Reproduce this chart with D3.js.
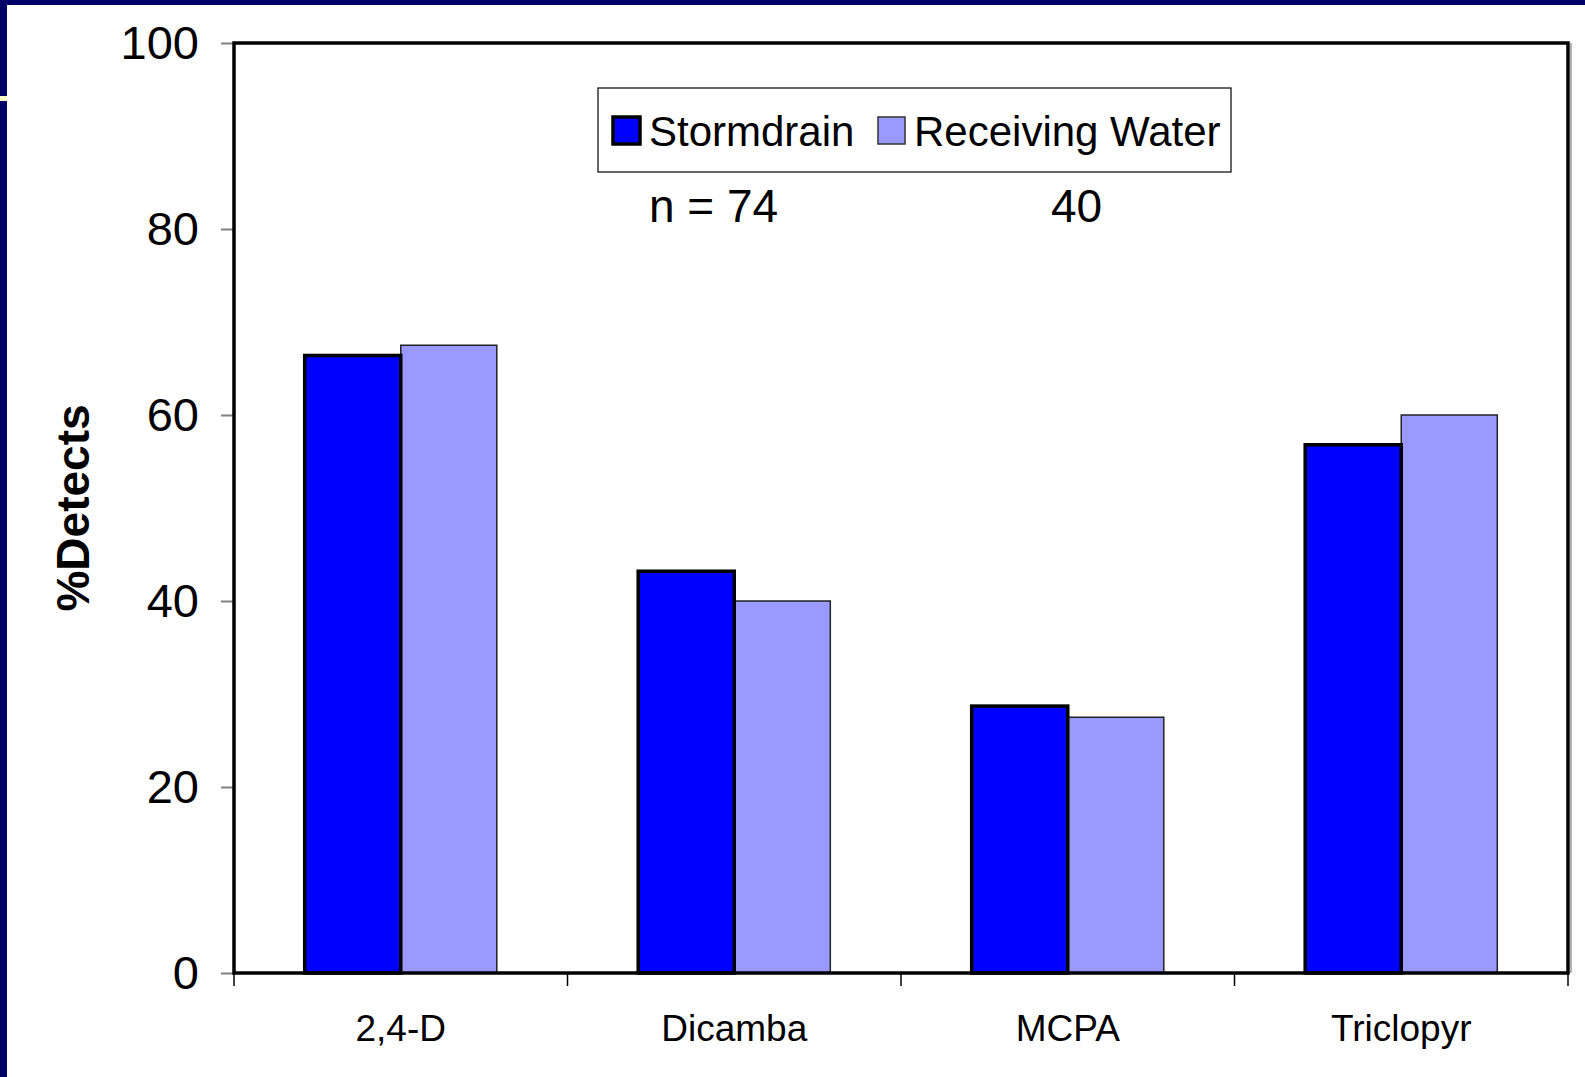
<!DOCTYPE html>
<html>
<head>
<meta charset="utf-8">
<title>%Detects</title>
<script src="https://cdn.jsdelivr.net/npm/d3@7"></script>
<style>
  body { margin: 0; background: #fff; }
  svg { display: block; font-family: 'Liberation Sans', Arial, sans-serif; }
</style>
</head>
<body>
<svg class="chart"></svg>
<script>
const categories = ['2,4-D', 'Dicamba', 'MCPA', 'Triclopyr'];
const seriesNames = ['Stormdrain', 'Receiving Water'];
const stormdrain = [66.4, 43.2, 28.7, 56.8];
const receivingWater = [67.5, 40.0, 27.5, 60.0];
const yTicks = [0, 20, 40, 60, 80, 100];
const nLabels = ['n = 74', '40'];

const app = (function () {
  'use strict';

  function init () {
    draw();
  }

  function draw () {
    const W = 1585;
    const H = 1077;
    const plot = { left: 234, top: 43, right: 1568, bottom: 973 };
    const colors = ['#0000ff', '#9999ff'];
    const strokes = [3.5, 1.5];

    const svg = d3.select('.chart')
      .attr('width', W)
      .attr('height', H);

    // slide frame
    svg.append('rect').attr('width', W).attr('height', H).attr('fill', '#000066');
    svg.append('rect').attr('x', 7).attr('y', 5).attr('width', W - 7).attr('height', H - 5).attr('fill', '#fff');
    svg.append('rect').attr('x', 0).attr('y', 96).attr('width', 7).attr('height', 5).attr('fill', '#ffffcc');

    const x = d3.scaleBand()
      .domain(categories)
      .range([plot.left, plot.right]);

    const groupW = x.bandwidth() * 0.576;
    const x1 = d3.scaleBand()
      .domain(seriesNames)
      .range([0, groupW]);

    const y = d3.scaleLinear()
      .domain([0, 100])
      .range([plot.bottom, plot.top]);

    const rows = categories.map(function (c, i) {
      return { cat: c, values: [stormdrain[i], receivingWater[i]] };
    });

    // bars
    const groups = svg.append('g')
      .selectAll('g')
      .data(rows)
      .enter().append('g')
      .attr('transform', function (d) {
        return 'translate(' + (x(d.cat) + (x.bandwidth() - groupW) / 2) + ',0)';
      });

    // receiving water first so the heavier stormdrain outline sits on top
    [1, 0].forEach(function (s) {
      groups.append('rect')
        .attr('x', x1(seriesNames[s]))
        .attr('y', function (d) { return y(d.values[s]); })
        .attr('width', x1.bandwidth())
        .attr('height', function (d) { return y(0) - y(d.values[s]); })
        .attr('fill', colors[s])
        .attr('stroke', s === 0 ? '#000' : '#222')
        .attr('stroke-width', strokes[s]);
    });

    // y axis
    const yAxis = svg.append('g')
      .attr('transform', 'translate(' + plot.left + ',0)')
      .call(d3.axisLeft(y).tickValues(yTicks).tickSize(13).tickPadding(22));
    yAxis.select('.domain').remove();
    yAxis.selectAll('line').attr('stroke', '#808080').attr('stroke-width', 2);
    yAxis.selectAll('text')
      .attr('font-size', 47)
      .attr('font-family', "'Liberation Sans', Arial, sans-serif")
      .attr('fill', '#000');

    // x axis labels
    const xAxis = svg.append('g')
      .attr('transform', 'translate(0,' + plot.bottom + ')')
      .call(d3.axisBottom(x).tickSize(0));
    xAxis.select('.domain').remove();
    xAxis.selectAll('text')
      .attr('y', 68)
      .attr('dy', 0)
      .attr('font-size', 37)
      .attr('font-family', "'Liberation Sans', Arial, sans-serif")
      .attr('fill', '#000');

    // category boundary ticks
    const bounds = categories.map(function (c) { return x(c); }).concat([plot.right]);
    svg.append('g')
      .selectAll('line')
      .data(bounds)
      .enter().append('line')
      .attr('x1', function (d) { return d; })
      .attr('x2', function (d) { return d; })
      .attr('y1', plot.bottom)
      .attr('y2', plot.bottom + 13)
      .attr('stroke', '#000')
      .attr('stroke-width', 1.5);

    // plot frame
    svg.append('line')
      .attr('x1', plot.right + 3).attr('x2', plot.right + 3)
      .attr('y1', plot.top).attr('y2', plot.bottom)
      .attr('stroke', '#999').attr('stroke-width', 1.5);
    svg.append('rect')
      .attr('x', plot.left)
      .attr('y', plot.top)
      .attr('width', plot.right - plot.left)
      .attr('height', plot.bottom - plot.top)
      .attr('fill', 'none')
      .attr('stroke', '#000')
      .attr('stroke-width', 3.5);

    // y title
    svg.append('text')
      .attr('transform', 'translate(89,' + ((plot.top + plot.bottom) / 2) + ') rotate(-90)')
      .attr('text-anchor', 'middle')
      .attr('font-size', 46)
      .attr('font-weight', 'bold')
      .text('%Detects');

    // legend
    const legend = svg.append('g');
    legend.append('rect')
      .attr('x', 598).attr('y', 88)
      .attr('width', 633).attr('height', 84)
      .attr('fill', '#fff')
      .attr('stroke', '#000')
      .attr('stroke-width', 1.2);

    const legendX = [613, 878];
    seriesNames.forEach(function (name, i) {
      legend.append('rect')
        .attr('x', legendX[i]).attr('y', 117)
        .attr('width', 27).attr('height', 27)
        .attr('fill', colors[i])
        .attr('stroke', i === 0 ? '#000' : '#333')
        .attr('stroke-width', i === 0 ? 3.5 : 1.5);
      legend.append('text')
        .attr('x', legendX[i] + 36)
        .attr('y', 146)
        .attr('font-size', 42)
        .text(name);
    });

    // sample counts
    const nX = [649, 1051];
    svg.append('g')
      .selectAll('text')
      .data(nLabels)
      .enter().append('text')
      .attr('x', function (d, i) { return nX[i]; })
      .attr('y', 222)
      .attr('font-size', 46)
      .text(function (d) { return d; });
  }

  return {
    init: init
  };
}());

window.addEventListener('load', app.init);
</script>
</body>
</html>
